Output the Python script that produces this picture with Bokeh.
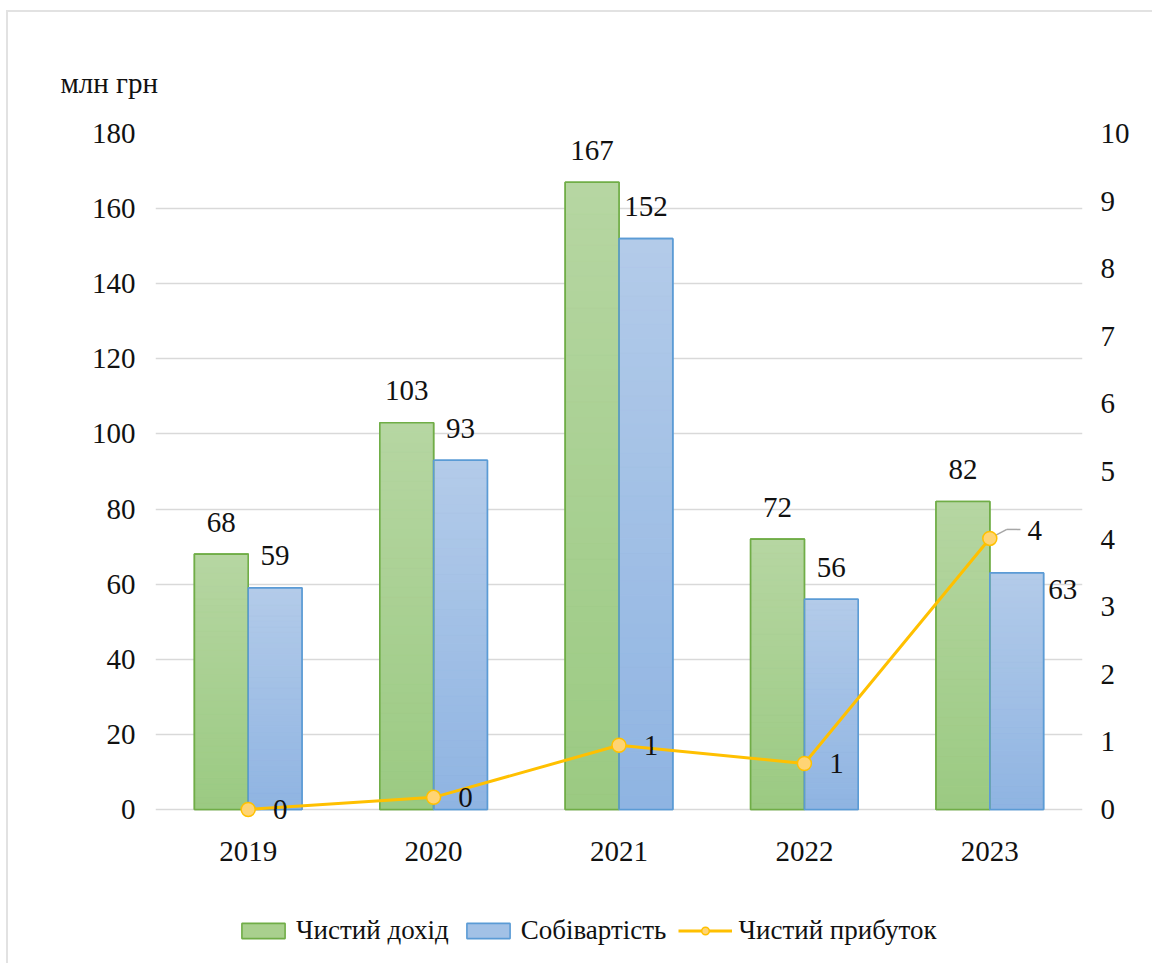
from bokeh.plotting import figure
from bokeh.models import (ColumnDataSource, FactorRange, Range1d, LinearAxis,
                          FixedTicker, Legend, LegendItem)
from bokeh.transform import dodge
from bokeh.embed import file_html
from bokeh.resources import INLINE
from bokeh.core.properties import value

# ---------------- data ----------------
years = ["2019", "2020", "2021", "2022", "2023"]
revenue = [68, 103, 167, 72, 82]          # Чистий дохід, млн грн
cost = [59, 93, 152, 56, 63]              # Собівартість, млн грн
profit = [0.0, 0.18, 0.95, 0.68, 4.01]    # Чистий прибуток (права вісь)
profit_labels = ["0", "0", "1", "1", "4"]
left_ticks = list(range(0, 181, 20))
right_ticks = list(range(0, 11))
LEFT_MAX, RIGHT_MAX = 180, 10

# ---------------- styles ----------------
FONT = "Liberation Serif"
FS = "29px"
TXT = "#111111"
GREEN_LINE, GREEN_TOP, GREEN_BOT, GREEN_MID = "#70ad47", "#b6d6a2", "#9bca82", "#a9d08e"
BLUE_LINE, BLUE_TOP, BLUE_BOT, BLUE_MID = "#5b9bd5", "#b3cbe9", "#8fb4e2", "#a2c1e6"
GOLD, GOLD_FILL = "#ffc000", "#ffd474"
BAR_W, DX = 0.29, 0.145

PLOT_PX = 676          # pixel height of the 0..180 span
FRAME_H = 822          # frame extends below zero to hold year labels + legend
LEFT_START = -(FRAME_H - PLOT_PX) * LEFT_MAX / PLOT_PX

p = figure(frame_width=927, frame_height=FRAME_H, x_range=FactorRange(factors=years),
           y_range=Range1d(LEFT_START, LEFT_MAX), output_backend="svg",
           toolbar_location=None, min_border_left=147, min_border_right=70,
           min_border_top=121, min_border_bottom=8)
p.extra_y_ranges = {"profit": Range1d(LEFT_START * RIGHT_MAX / LEFT_MAX, RIGHT_MAX)}
p.styles = {"margin-left": "6px", "margin-top": "10px",
            "border-top": "2px solid #e2e2e2", "border-left": "2px solid #e2e2e2"}
p.outline_line_color = None
p.background_fill_color = "white"
p.border_fill_color = "white"

p.title.text = "млн грн"
p.title.align = "left"
p.title.offset = -95
p.title.text_font = FONT
p.title.text_font_size = FS
p.title.text_font_style = "normal"
p.title.text_color = TXT
p.title.standoff = 69


def hex2rgb(h):
    return tuple(int(h[i:i + 2], 16) for i in (1, 3, 5))


def grad_source(vals, bot_hex, top_hex, n=40):
    b, t = hex2rgb(bot_hex), hex2rgb(top_hex)
    xs, bots, tops, cols = [], [], [], []
    for yr, v in zip(years, vals):
        for i in range(n):
            f = (i + 0.5) / n
            xs.append(yr)
            bots.append(v * i / n)
            tops.append(v * (i + 1) / n)
            c = tuple(round(b[k] + (t[k] - b[k]) * f) for k in range(3))
            cols.append("#%02x%02x%02x" % c)
    return ColumnDataSource(dict(year=xs, bottom=bots, top=tops, color=cols))


# label offsets (style)
cost_dx = [0, 0, 0, 0, 46]
cost_dy = [-32, -32, -32, -32, 17]
prof_dx = [32, 32, 32, 32, 45]
prof_dy = [0, 0, 0, 0, -8]

src = ColumnDataSource(dict(
    year=years, revenue=revenue, cost=cost, profit=profit,
    rev_lbl=[str(v) for v in revenue], cost_lbl=[str(v) for v in cost],
    prof_lbl=profit_labels, cost_dx=cost_dx, cost_dy=cost_dy,
    prof_dx=prof_dx, prof_dy=prof_dy, zero=[0] * len(years),
))

base_g = p.vbar(x=dodge("year", -DX, range=p.x_range), width=BAR_W, bottom=0,
                top="revenue", fill_color=GREEN_MID, line_color=GREEN_LINE,
                line_width=1.6, source=src)
base_b = p.vbar(x=dodge("year", DX, range=p.x_range), width=BAR_W, bottom=0,
                top="cost", fill_color=BLUE_MID, line_color=BLUE_LINE,
                line_width=1.6, source=src)

for vals, off, bc, tc in ((revenue, -DX, GREEN_BOT, GREEN_TOP),
                          (cost, DX, BLUE_BOT, BLUE_TOP)):
    gs = grad_source(vals, bc, tc)
    p.vbar(x=dodge("year", off, range=p.x_range), width=BAR_W, bottom="bottom",
           top="top", fill_color="color", line_color="color", line_width=0.6,
           source=gs)

p.vbar(x=dodge("year", -DX, range=p.x_range), width=BAR_W, bottom=0, top="revenue",
       fill_alpha=0, line_color=GREEN_LINE, line_width=1.6, source=src)
p.vbar(x=dodge("year", DX, range=p.x_range), width=BAR_W, bottom=0, top="cost",
       fill_alpha=0, line_color=BLUE_LINE, line_width=1.6, source=src)

p.text(x=dodge("year", -DX, range=p.x_range), y="revenue", text="rev_lbl",
       text_align="center", text_baseline="middle", y_offset=-32,
       text_font=value(FONT), text_font_size=FS, text_color=TXT, source=src)
p.text(x=dodge("year", DX, range=p.x_range), y="cost", text="cost_lbl",
       text_align="center", text_baseline="middle", x_offset="cost_dx",
       y_offset="cost_dy", text_font=value(FONT), text_font_size=FS,
       text_color=TXT, source=src)

lead_src = ColumnDataSource(dict(year=[years[-1]], y0=[profit[-1]],
                                 y1=[profit[-1] + 0.133]))
p.segment(x0=dodge("year", 0.0, range=p.x_range), y0="y0",
          x1=dodge("year", 0.092, range=p.x_range), y1="y1",
          y_range_name="profit", line_color="#a6a6a6", line_width=1.5,
          source=lead_src)
p.segment(x0=dodge("year", 0.092, range=p.x_range), y0="y1",
          x1=dodge("year", 0.165, range=p.x_range), y1="y1",
          y_range_name="profit", line_color="#a6a6a6", line_width=1.5,
          source=lead_src)

pl = p.line(x="year", y="profit", y_range_name="profit", line_color=GOLD,
            line_width=3, source=src)
pc = p.scatter(x="year", y="profit", y_range_name="profit", size=14,
               fill_color=GOLD_FILL, line_color=GOLD, line_width=1.5, source=src)
p.text(x="year", y="profit", y_range_name="profit", text="prof_lbl",
       text_align="center", text_baseline="middle", x_offset="prof_dx",
       y_offset="prof_dy", text_font=value(FONT), text_font_size=FS,
       text_color=TXT, source=src)

# category (year) labels under the zero line
p.text(x="year", y="zero", text="year", text_align="center",
       text_baseline="middle", y_offset=42, text_font=value(FONT),
       text_font_size=FS, text_color=TXT, source=src)
p.xaxis.visible = False

p.yaxis.ticker = FixedTicker(ticks=left_ticks)
raxis = LinearAxis(y_range_name="profit", ticker=FixedTicker(ticks=right_ticks))
p.add_layout(raxis, "right")
for ax in (p.yaxis[0], raxis):
    ax.axis_line_color = None
    ax.major_tick_line_color = None
    ax.minor_tick_line_color = None
    ax.major_label_text_font = FONT
    ax.major_label_text_font_size = FS
    ax.major_label_text_color = TXT
p.yaxis[0].major_label_standoff = 14
raxis.major_label_standoff = 12

p.xgrid.grid_line_color = None
p.ygrid.grid_line_color = "#d9d9d9"
p.ygrid.grid_line_width = 1.5
p.ygrid.ticker = FixedTicker(ticks=left_ticks)

legend = Legend(items=[
    LegendItem(label="Чистий дохід", renderers=[base_g]),
    LegendItem(label="Собівартість", renderers=[base_b]),
    LegendItem(label="Чистий прибуток", renderers=[pl, pc]),
], orientation="horizontal", location=(81, 9), glyph_width=54,
    glyph_height=19, label_standoff=6, spacing=12, padding=0, margin=0,
    border_line_alpha=0, background_fill_alpha=0,
    label_text_font=FONT, label_text_font_size="27px", label_text_color=TXT)
p.add_layout(legend)

with open("out.html", "w", encoding="utf-8") as f:
    f.write(file_html(p, INLINE))
